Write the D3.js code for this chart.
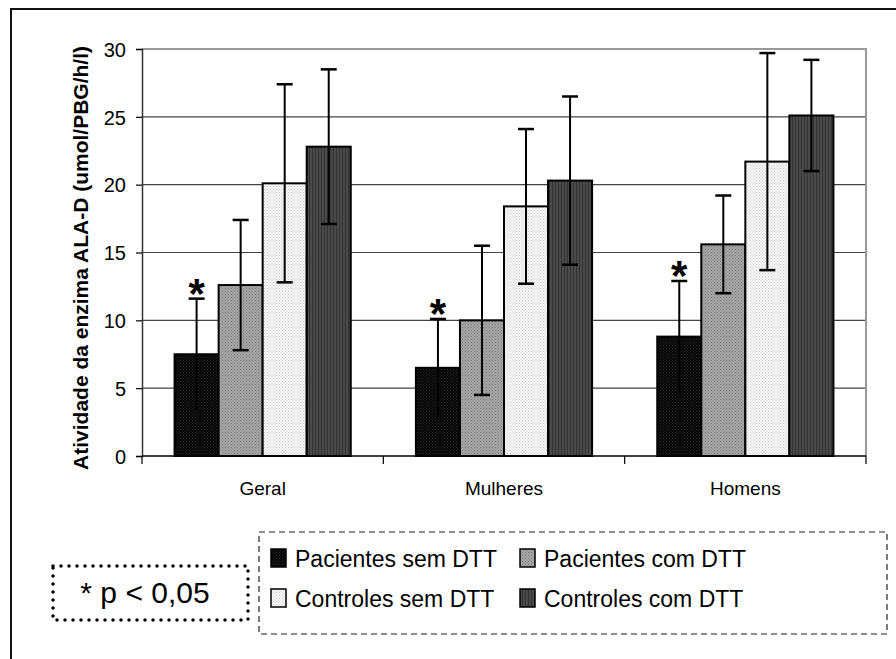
<!DOCTYPE html>
<html>
<head>
<meta charset="utf-8">
<script src="https://cdn.jsdelivr.net/npm/d3@7"></script>
<style>
  body { margin: 0; background: #fff; }
  svg text { font-family: "Liberation Sans", Arial, sans-serif; fill: #000; }
</style>
</head>
<body>
<div id="chart"></div>
<script>
var categories = ["Geral", "Mulheres", "Homens"];
var seriesNames = ["Pacientes sem DTT", "Pacientes com DTT", "Controles sem DTT", "Controles com DTT"];
// médias por série (Geral, Mulheres, Homens)
var pacSem = [7.5, 6.5, 8.8];
var pacCom = [12.6, 10.0, 15.6];
var ctlSem = [20.1, 18.4, 21.7];
var ctlCom = [22.8, 20.3, 25.1];
// desvio (barra de erro)
var errPacSem = [4.1, 3.6, 4.1];
var errPacCom = [4.8, 5.5, 3.6];
var errCtlSem = [7.3, 5.7, 8.0];
var errCtlCom = [5.7, 6.2, 4.1];
var signif = [true, true, true]; // asterisco sobre Pacientes sem DTT
var yTicks = [0, 5, 10, 15, 20, 25, 30];

var width = 896, height = 659;
var plot = { left: 142, right: 866, top: 49, bottom: 456 };

var svg = d3.select("#chart").append("svg")
    .attr("width", width).attr("height", height);

// padrões das barras
var defs = svg.append("defs");
function dotPattern(id, bg, dot) {
    var p = defs.append("pattern").attr("id", id)
        .attr("width", 3).attr("height", 3).attr("patternUnits", "userSpaceOnUse");
    p.append("rect").attr("width", 3).attr("height", 3).attr("fill", bg);
    p.append("rect").attr("x", 0).attr("y", 0).attr("width", 1).attr("height", 1).attr("fill", dot);
    p.append("rect").attr("x", 1.5).attr("y", 1.5).attr("width", 1).attr("height", 1).attr("fill", dot);
}
dotPattern("p0", "#050505", "#2a2a2a");
dotPattern("p1", "#a8a8a8", "#777");
dotPattern("p2", "#f6f6f6", "#cfcfcf");
var st = defs.append("pattern").attr("id", "p3")
    .attr("width", 3).attr("height", 3).attr("patternUnits", "userSpaceOnUse");
st.append("rect").attr("width", 3).attr("height", 3).attr("fill", "#4a4a4a");
st.append("rect").attr("x", 0).attr("width", 1).attr("height", 3).attr("fill", "#333");
var fills = ["url(#p0)", "url(#p1)", "url(#p2)", "url(#p3)"];

// moldura externa
svg.append("path")
    .attr("d", "M11," + height + "V9H" + width)
    .attr("fill", "none").attr("stroke", "#111").attr("stroke-width", 2);

var x0 = d3.scaleBand().domain(categories).range([plot.left, plot.right]).paddingInner(0.27).paddingOuter(0.135);
var x1 = d3.scaleBand().domain(d3.range(4)).range([0, x0.bandwidth()]);
var y = d3.scaleLinear().domain([0, 30]).range([plot.bottom, plot.top]);

// grades
svg.append("g").selectAll("line").data(yTicks.filter(function (d) { return d > 0 && d < 30; }))
    .enter().append("line")
    .attr("x1", plot.left).attr("x2", plot.right)
    .attr("y1", function (d) { return y(d); }).attr("y2", function (d) { return y(d); })
    .attr("stroke", "#444").attr("stroke-width", 1.2);
svg.append("path")
    .attr("d", "M" + plot.left + "," + y(30) + "H" + plot.right + "V" + plot.bottom)
    .attr("fill", "none").attr("stroke", "#999").attr("stroke-width", 2);

var values = [pacSem, pacCom, ctlSem, ctlCom];
var errs = [errPacSem, errPacCom, errCtlSem, errCtlCom];
var rows = [];
categories.forEach(function (c, ci) {
    values.forEach(function (s, si) {
        rows.push({ cat: c, ci: ci, si: si, v: s[ci], e: errs[si][ci] });
    });
});

var bars = svg.append("g").selectAll("g").data(rows).enter().append("g");
bars.append("rect")
    .attr("x", function (d) { return x0(d.cat) + x1(d.si); })
    .attr("y", function (d) { return y(d.v); })
    .attr("width", x1.bandwidth())
    .attr("height", function (d) { return y(0) - y(d.v); })
    .attr("fill", function (d) { return fills[d.si]; })
    .attr("stroke", "#000").attr("stroke-width", 2);

// barras de erro
function cx(d) { return x0(d.cat) + x1(d.si) + x1.bandwidth() / 2; }
bars.append("line")
    .attr("x1", cx).attr("x2", cx)
    .attr("y1", function (d) { return y(d.v + d.e); })
    .attr("y2", function (d) { return y(d.v - d.e); })
    .attr("stroke", "#000").attr("stroke-width", 2);
bars.append("line")
    .attr("x1", function (d) { return cx(d) - 8; }).attr("x2", function (d) { return cx(d) + 8; })
    .attr("y1", function (d) { return y(d.v + d.e); }).attr("y2", function (d) { return y(d.v + d.e); })
    .attr("stroke", "#000").attr("stroke-width", 2.5);
bars.filter(function (d) { return d.si > 0; }).append("line")
    .attr("x1", function (d) { return cx(d) - 8; }).attr("x2", function (d) { return cx(d) + 8; })
    .attr("y1", function (d) { return y(d.v - d.e); }).attr("y2", function (d) { return y(d.v - d.e); })
    .attr("stroke", "#000").attr("stroke-width", 2.5);

// asteriscos
bars.filter(function (d) { return d.si === 0 && signif[d.ci]; }).append("text")
    .attr("x", cx)
    .attr("y", function (d) { return y(d.v + d.e) + 9; })
    .attr("text-anchor", "middle")
    .attr("font-size", "42px").attr("font-weight", "bold")
    .text("*");

// eixos
var yAxis = svg.append("g").attr("transform", "translate(" + plot.left + ",0)")
    .call(d3.axisLeft(y).tickValues(yTicks).tickSize(6).tickPadding(10));
yAxis.select(".domain").attr("stroke", "#333").attr("stroke-width", 1.5);
yAxis.selectAll(".tick line").attr("stroke", "#000").attr("stroke-width", 1.2);
yAxis.selectAll(".tick text").attr("font-size", "20px").attr("dy", "0.36em")
    .attr("font-family", "'Liberation Sans', Arial, sans-serif");

var xAxis = svg.append("g").attr("transform", "translate(0," + plot.bottom + ")");
xAxis.append("line").attr("x1", plot.left).attr("x2", plot.right)
    .attr("stroke", "#000").attr("stroke-width", 1.5);
xAxis.selectAll("line.tk").data([0, 1, 2, 3]).enter().append("line").attr("class", "tk")
    .attr("x1", function (i) { return plot.left + i * (plot.right - plot.left) / 3; })
    .attr("x2", function (i) { return plot.left + i * (plot.right - plot.left) / 3; })
    .attr("y1", 0).attr("y2", 8)
    .attr("stroke", "#000").attr("stroke-width", 1.2);
xAxis.selectAll("text").data(categories).enter().append("text")
    .attr("x", function (d) { return x0(d) + x0.bandwidth() / 2; })
    .attr("y", 39)
    .attr("text-anchor", "middle").attr("font-size", "19px")
    .text(function (d) { return d; });

svg.append("text")
    .attr("transform", "translate(88,258) rotate(-90)")
    .attr("text-anchor", "middle")
    .attr("font-size", "21px").attr("font-weight", "bold")
    .text("Atividade da enzima ALA-D (umol/PBG/h/l)");

// legenda
var leg = svg.append("g");
leg.append("rect").attr("x", 259).attr("y", 532).attr("width", 628).attr("height", 102)
    .attr("fill", "none").attr("stroke", "#222").attr("stroke-width", 1.2).attr("stroke-dasharray", "6,4");
var legPos = [[270, 567], [519, 567], [270, 607], [519, 607]];
var li = leg.selectAll("g").data(seriesNames).enter().append("g")
    .attr("transform", function (d, i) { return "translate(" + legPos[i][0] + "," + legPos[i][1] + ")"; });
li.append("rect").attr("x", 1).attr("y", -18).attr("width", 15).attr("height", 18)
    .attr("fill", function (d, i) { return fills[i]; })
    .attr("stroke", "#000").attr("stroke-width", 1.5);
li.append("text").attr("x", 25).attr("y", 0)
    .attr("font-size", "23px")
    .text(function (d) { return d; });

// caixa p
svg.append("rect").attr("x", 53).attr("y", 566).attr("width", 195).attr("height", 54)
    .attr("fill", "none").attr("stroke", "#000").attr("stroke-width", 3.5)
    .attr("stroke-dasharray", "0,8").attr("stroke-linecap", "round");
svg.append("text").attr("x", 145).attr("y", 603).attr("text-anchor", "middle")
    .attr("font-size", "30px").text("* p < 0,05");
</script>
</body>
</html>
